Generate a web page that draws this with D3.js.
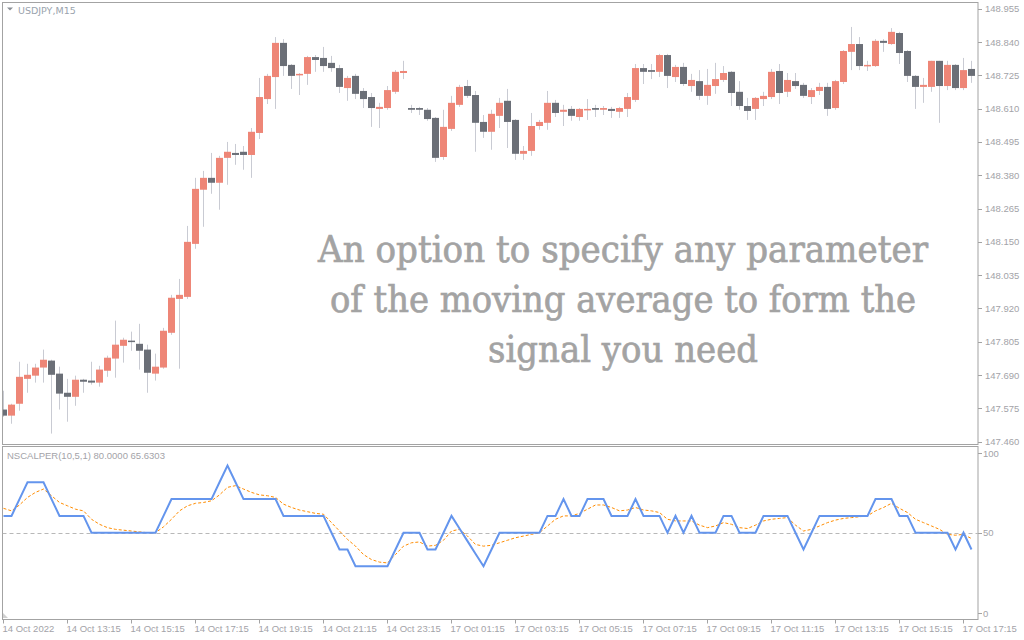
<!DOCTYPE html>
<html>
<head>
<meta charset="utf-8">
<script src="https://cdn.jsdelivr.net/npm/d3@7"></script>
<style>
  body { margin: 0; background: #ffffff; }
  svg { display: block; font-family: "Liberation Sans", Arial, sans-serif; }
</style>
</head>
<body>
<svg id="chart" width="1024" height="640"></svg>
<script>
// USDJPY M15 candles, 14 Oct 11:15 -> 17 Oct 17:30
const opens = [147.571,147.550,147.591,147.677,147.688,147.716,147.740,147.695,147.629,147.615,
  147.674,147.671,147.664,147.705,147.747,147.791,147.809,147.798,147.778,147.695,
  147.716,147.836,147.953,147.960,148.143,148.330,148.371,148.354,148.440,148.457,
  148.461,148.450,148.526,148.643,148.719,148.837,148.761,148.726,148.730,148.788,
  148.785,148.768,148.750,148.681,148.723,148.671,148.650,148.609,148.612,148.668,
  148.733,148.612,148.612,148.606,148.578,148.443,148.540,148.623,148.688,148.657,
  148.564,148.530,148.585,148.637,148.571,148.454,148.464,148.550,148.561,148.630,
  148.599,148.609,148.581,148.606,148.612,148.606,148.609,148.599,148.609,148.640,
  148.750,148.743,148.737,148.795,148.719,148.754,148.688,148.705,148.654,148.688,
  148.709,148.737,148.668,148.619,148.609,148.643,148.650,148.740,148.668,148.705,
  148.692,148.650,148.671,148.685,148.612,148.702,148.806,148.833,148.757,148.757,
  148.844,148.833,148.871,148.809,148.723,148.685,148.685,148.775,148.688,148.761,
  148.681,148.747];
const highs = [147.636,147.591,147.736,147.729,147.729,147.778,147.743,147.719,147.677,147.688,
  147.677,147.736,147.722,147.757,147.878,147.819,147.840,147.867,147.795,147.764,
  147.853,147.967,148.022,148.205,148.371,148.395,148.457,148.447,148.495,148.488,
  148.481,148.543,148.716,148.730,148.857,148.850,148.764,148.733,148.792,148.795,
  148.823,148.792,148.761,148.723,148.730,148.681,148.664,148.630,148.688,148.743,
  148.775,148.623,148.616,148.612,148.581,148.606,148.654,148.692,148.709,148.671,
  148.588,148.606,148.647,148.678,148.574,148.481,148.595,148.571,148.671,148.640,
  148.623,148.619,148.612,148.643,148.623,148.619,148.616,148.616,148.664,148.764,
  148.764,148.764,148.799,148.799,148.761,148.768,148.730,148.743,148.747,148.768,
  148.757,148.740,148.705,148.647,148.650,148.668,148.747,148.764,148.733,148.733,
  148.699,148.681,148.699,148.699,148.709,148.812,148.892,148.857,148.775,148.850,
  148.850,148.888,148.875,148.812,148.726,148.716,148.775,148.775,148.775,148.764,
  148.785,148.775];
const lows = [147.546,147.522,147.567,147.629,147.664,147.664,147.488,147.571,147.529,147.584,
  147.629,147.657,147.650,147.684,147.681,147.733,147.774,147.709,147.629,147.671,
  147.712,147.829,147.712,147.953,148.126,148.202,148.316,148.261,148.347,148.416,
  148.399,148.371,148.505,148.626,148.609,148.723,148.678,148.657,148.692,148.737,
  148.737,148.737,148.664,148.637,148.643,148.612,148.547,148.543,148.606,148.661,
  148.712,148.595,148.588,148.568,148.426,148.433,148.533,148.616,148.647,148.461,
  148.509,148.468,148.543,148.474,148.433,148.433,148.447,148.537,148.537,148.581,
  148.550,148.568,148.568,148.571,148.581,148.588,148.578,148.578,148.581,148.633,
  148.695,148.712,148.719,148.681,148.702,148.688,148.668,148.640,148.623,148.661,
  148.702,148.619,148.606,148.571,148.571,148.619,148.643,148.626,148.650,148.678,
  148.647,148.626,148.657,148.585,148.606,148.695,148.743,148.743,148.740,148.754,
  148.806,148.830,148.764,148.702,148.609,148.630,148.668,148.561,148.674,148.674,
  148.674,148.699];
const closes = [147.550,147.588,147.684,147.691,147.716,147.743,147.691,147.626,147.615,147.674,
  147.667,147.664,147.709,147.750,147.795,147.812,147.805,147.774,147.698,147.719,
  147.843,147.957,147.967,148.150,148.333,148.371,148.354,148.440,148.461,148.450,
  148.450,148.530,148.650,148.723,148.837,148.757,148.723,148.730,148.788,148.778,
  148.757,148.750,148.685,148.716,148.661,148.643,148.612,148.616,148.674,148.737,
  148.740,148.606,148.606,148.574,148.440,148.547,148.630,148.685,148.654,148.561,
  148.530,148.592,148.630,148.564,148.454,148.464,148.550,148.564,148.630,148.595,
  148.606,148.585,148.609,148.609,148.606,148.612,148.602,148.612,148.650,148.750,
  148.737,148.737,148.795,148.723,148.754,148.695,148.709,148.654,148.692,148.712,
  148.733,148.664,148.619,148.602,148.647,148.654,148.737,148.664,148.709,148.688,
  148.654,148.674,148.685,148.609,148.705,148.809,148.833,148.757,148.761,148.844,
  148.837,148.875,148.802,148.723,148.685,148.692,148.775,148.688,148.761,148.681,
  148.743,148.723];

// NSCALPER(10,5,1) main line and its moving average
const scalper = [60,60,70,80,80,80,70,60,60,60,60,50,50,50,50,50,50,50,50,50,
  60,70,70,70,70,70,70,80,90,80,70,70,70,70,70,60,60,60,60,60,
  60,50,40,40,30,30,30,30,30,40,50,50,50,40,40,50,60,52.5,45,37.5,
  30,40,50,50,50,50,50,50,60,60,70,60,60,70,70,70,60,60,60,70,
  60,60,60,50,60,50,60,50,50,50,60,60,50,50,50,60,60,60,60,50,
  40,50,60,60,60,60,60,60,60,70,70,70,60,60,50,50,50,50,50,40,
  50,40];
const signal = [64.5,63,66.5,71,74,76,72,68,66,64,63,58,55,53,52,51.5,51,50.5,50,50,
  53.5,58,63,66,67.5,68,69,72.5,77,78,76,74,72.5,72,71,67,65,63.5,62.5,61.5,
  61,56,51,46,42,37,34,32.5,32,37,42,44,44.5,42,42.5,45.5,51,52,48,43,
  42,42.5,44,45.5,47,48,49,50,54,58,60,60,61.5,64,66.5,66.5,65,63,63.5,65,
  63.5,63,62,58,57,57,57,54.5,53,54,56,55,53,52.5,54.5,57,58,58.5,59,54.5,
  51,52,54,56,57.5,58.5,59,59.5,60,63,65,67.5,64.5,62,58,56,54,52,49,48.5,
  49,46.5];

const priceTicks = [148.955,148.840,148.725,148.610,148.495,148.380,148.265,148.150,
  148.035,147.920,147.805,147.690,147.575,147.460];
const oscTicks = [100, 50, 0];
const timeLabels = ["14 Oct 2022","14 Oct 13:15","14 Oct 15:15","14 Oct 17:15","14 Oct 19:15",
  "14 Oct 21:15","14 Oct 23:15","17 Oct 01:15","17 Oct 03:15","17 Oct 05:15","17 Oct 07:15",
  "17 Oct 09:15","17 Oct 11:15","17 Oct 13:15","17 Oct 15:15","17 Oct 17:15"];

const svg = d3.select("#chart");
const frameColor = "#a3a3a3";
const textColor = "#a3a3a8";
const upColor = "#ee8677";
const downColor = "#6b6f77";
const wickColor = "#c9cbd3";

const left = 2.5, right = 978;
const mainTop = 2.5, mainBottom = 444.5;
const oscTop = 446.5, oscBottom = 619.5;

const candles = opens.map((o, i) => ({
  i, open: o, high: highs[i], low: lows[i], close: closes[i]
}));

const x = d3.scaleLinear().domain([0, candles.length - 1]).range([3.5, 3.5 + 8 * (candles.length - 1)]);
const y = d3.scaleLinear().domain([147.460, 148.955]).range([441.7, 8.7]);
const yo = d3.scaleLinear().domain([0, 100]).range([616.7, 448.7]);

svg.append("rect").attr("width", 1024).attr("height", 640).attr("fill", "#ffffff");

const defs = svg.append("defs");
defs.append("clipPath").attr("id", "clipMain")
  .append("rect").attr("x", left).attr("y", mainTop).attr("width", right - left).attr("height", mainBottom - mainTop);
defs.append("clipPath").attr("id", "clipOsc")
  .append("rect").attr("x", left).attr("y", oscTop).attr("width", right - left).attr("height", oscBottom - oscTop);

// overlay caption (slab serif in the original, a serif squeezed to the same widths)
const caption = [
  { text: "An option to specify any parameter", width: 610 },
  { text: "of the moving average to form the", width: 586 },
  { text: "signal you need", width: 270 }
];
svg.append("g").selectAll("text")
  .data(caption)
  .join("text")
  .attr("x", 623)
  .attr("y", (d, k) => 262 + k * 50)
  .attr("text-anchor", "middle")
  .attr("font-family", "'DejaVu Serif', 'Liberation Serif', serif")
  .attr("font-size", 37)
  .attr("textLength", d => d.width)
  .attr("lengthAdjust", "spacingAndGlyphs")
  .attr("fill", "#a3a3a3")
  .attr("stroke", "#a3a3a3")
  .attr("stroke-width", 0.7)
  .text(d => d.text);

// candles
const cg = svg.append("g").attr("clip-path", "url(#clipMain)");
cg.selectAll(".wick")
  .data(candles)
  .join("line")
  .attr("class", "wick")
  .attr("x1", d => x(d.i)).attr("x2", d => x(d.i))
  .attr("y1", d => y(d.high)).attr("y2", d => y(d.low))
  .attr("stroke", wickColor).attr("stroke-width", 1);

cg.selectAll(".body")
  .data(candles)
  .join("rect")
  .attr("class", "body")
  .attr("x", d => x(d.i) - 3.5)
  .attr("width", 7)
  .attr("y", d => y(Math.max(d.open, d.close)))
  .attr("height", d => Math.max(1.5, Math.abs(y(d.open) - y(d.close))))
  .attr("fill", d => d.close >= d.open ? upColor : downColor);

// frames
svg.append("rect").attr("x", left).attr("y", mainTop).attr("width", right - left).attr("height", mainBottom - mainTop)
  .attr("fill", "none").attr("stroke", frameColor);
svg.append("rect").attr("x", left).attr("y", oscTop).attr("width", right - left).attr("height", oscBottom - oscTop)
  .attr("fill", "none").attr("stroke", frameColor);

// price axis
const pa = svg.append("g").attr("font-size", 9.5).attr("fill", textColor);
pa.selectAll("line")
  .data(priceTicks)
  .join("line")
  .attr("x1", right).attr("x2", right + 4)
  .attr("y1", d => Math.round(y(d)) + 0.5).attr("y2", d => Math.round(y(d)) + 0.5)
  .attr("stroke", frameColor);
pa.selectAll("text")
  .data(priceTicks)
  .join("text")
  .attr("x", 985)
  .attr("y", d => y(d) + 3.5)
  .text(d => d.toFixed(3));

// top-left symbol label
svg.append("path").attr("d", "M7,7.5 L13,7.5 L10,10.5 Z").attr("fill", "#8a8f96");
svg.append("text").attr("x", 18).attr("y", 14)
  .attr("font-family", "'DejaVu Sans', sans-serif").attr("font-size", 9.5)
  .attr("fill", "#9aa3ad").text("USDJPY,M15");

// oscillator
const og = svg.append("g").attr("clip-path", "url(#clipOsc)");
og.append("line")
  .attr("x1", left).attr("x2", right)
  .attr("y1", Math.round(yo(50)) + 0.5).attr("y2", Math.round(yo(50)) + 0.5)
  .attr("stroke", "#b8b8b8").attr("stroke-dasharray", "4,3");

og.append("path")
  .datum(signal)
  .attr("fill", "none")
  .attr("stroke", "#ff8c00")
  .attr("stroke-width", 1)
  .attr("stroke-dasharray", "3,2")
  .attr("d", d3.line().x((d, i) => x(i)).y(d => yo(d)));

og.append("path")
  .datum(scalper)
  .attr("fill", "none")
  .attr("stroke", "#6495ed")
  .attr("stroke-width", 2)
  .attr("d", d3.line().x((d, i) => x(i)).y(d => yo(d)));

svg.append("text").attr("x", 7).attr("y", 459)
  .attr("font-size", 9.5).attr("fill", textColor)
  .text("NSCALPER(10,5,1) 80.0000 65.6303");

svg.append("path").attr("d", "M3,613 L3,618 L8,618 Z").attr("fill", "#d0d0d0");

const oa = svg.append("g").attr("font-size", 9.5).attr("fill", textColor);
oa.selectAll("line")
  .data(oscTicks)
  .join("line")
  .attr("x1", right).attr("x2", right + 4)
  .attr("y1", d => Math.round(Math.min(Math.max(yo(d), 453), 613)) + 0.5)
  .attr("y2", d => Math.round(Math.min(Math.max(yo(d), 453), 613)) + 0.5)
  .attr("stroke", frameColor);
oa.selectAll("text")
  .data(oscTicks)
  .join("text")
  .attr("x", 983)
  .attr("y", d => Math.min(Math.max(yo(d), 453), 613) + 3.5)
  .text(d => d);

// time axis
const ta = svg.append("g").attr("font-size", 9.5).attr("fill", textColor);
ta.selectAll("line")
  .data(timeLabels)
  .join("line")
  .attr("x1", (d, k) => Math.round(x(k * 8)) - 0.5).attr("x2", (d, k) => Math.round(x(k * 8)) - 0.5)
  .attr("y1", oscBottom).attr("y2", oscBottom + 4)
  .attr("stroke", frameColor);
ta.selectAll("text")
  .data(timeLabels)
  .join("text")
  .attr("x", (d, k) => x(k * 8) - 1)
  .attr("y", 632)
  .text(d => d);
</script>
</body>
</html>
